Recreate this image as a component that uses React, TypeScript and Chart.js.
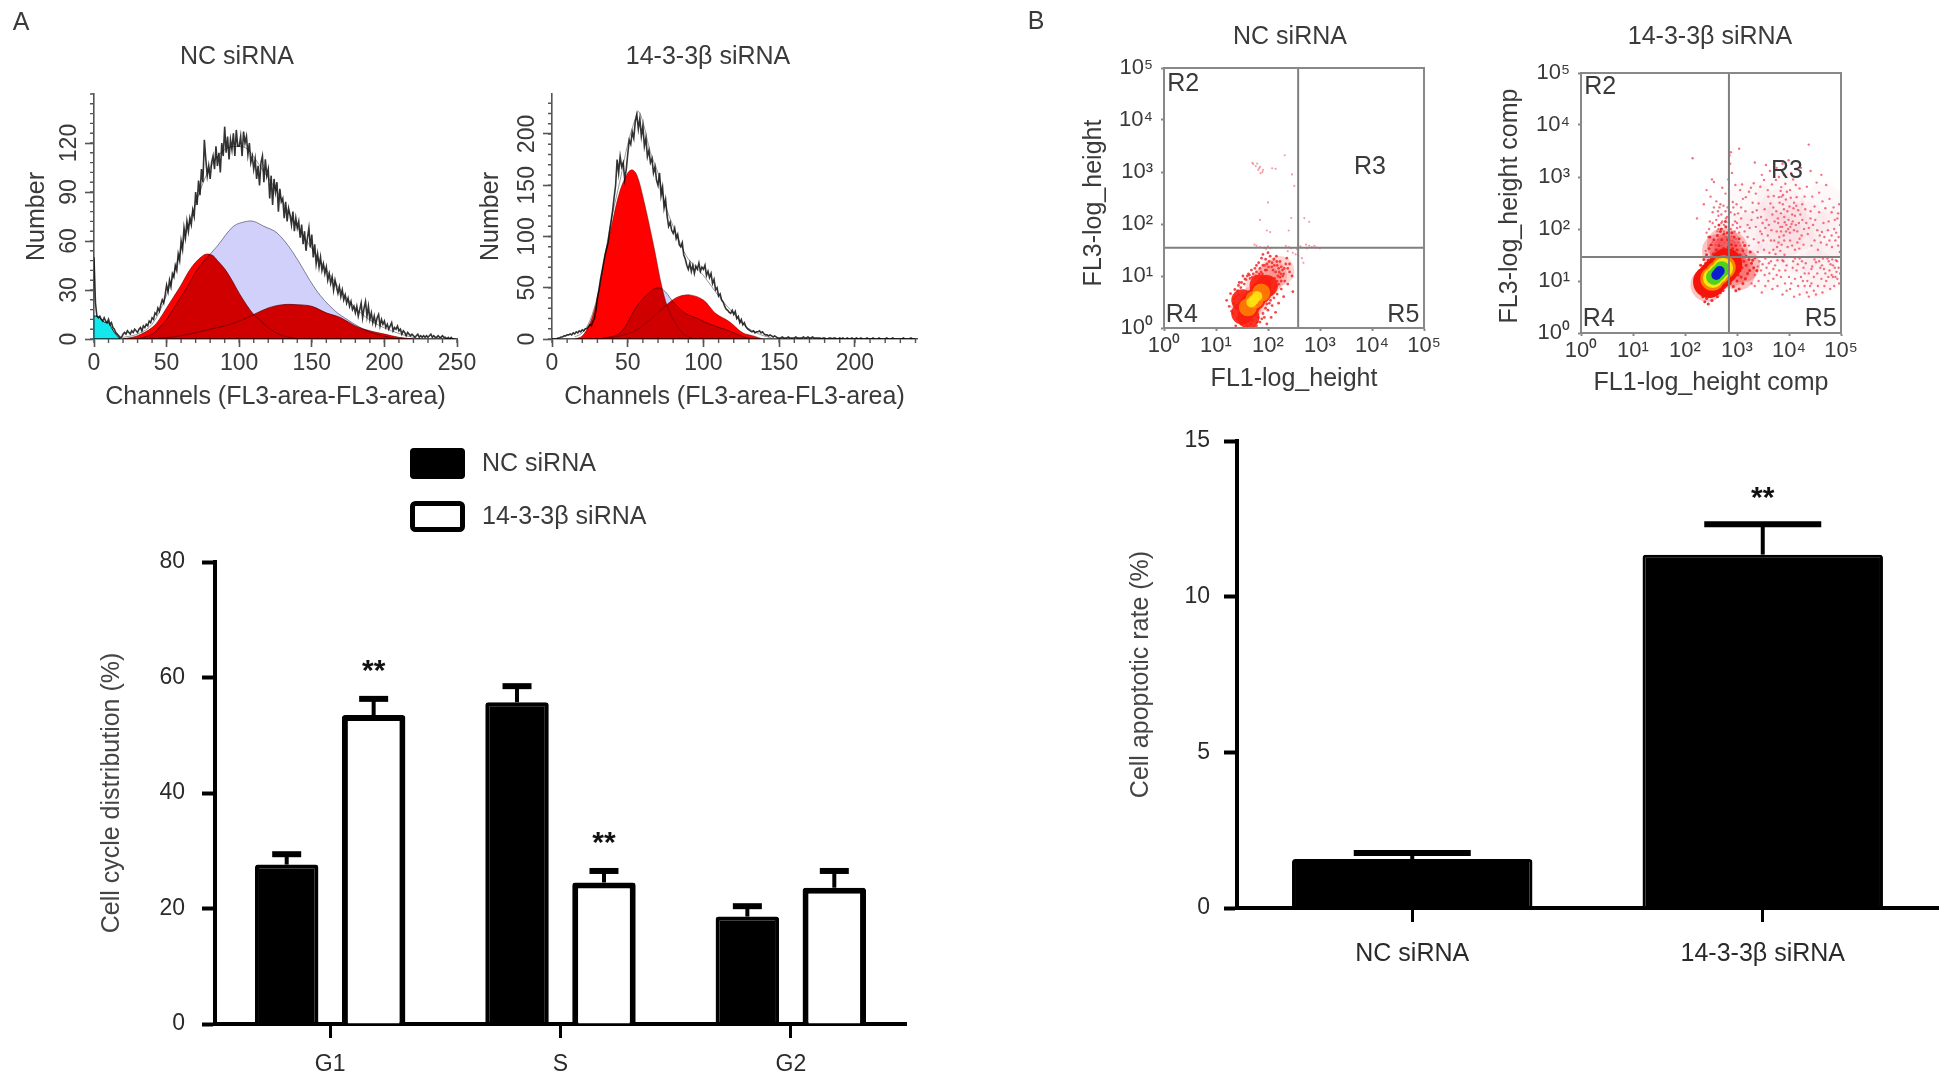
import React, { useEffect, useRef } from "react";
import { Chart, registerables } from "chart.js";

Chart.register(...registerables);
Chart.defaults.font.family = "'Liberation Sans', Arial, sans-serif";
Chart.defaults.color = "#3a3a3a";

// ---------- Panel A, cell-cycle histograms ----------
// counts per channel (index = channel number)
const hist1Counts = [
  50,22,14,13,14,12,11,13,11,10, 12,9,10,7,6,4,3,2,1,1, 3,4,3,5,4,3,5,4,6,5, 4,6,7,5,8,7,9,8,11,10,
  13,12,16,15,19,17,21,24,22,27, 33,29,36,32,40,38,45,42,52,48, 60,55,68,62,72,66,74,70,79,75,
  90,82,97,88,104,96,122,110,100,106, 98,108,112,104,118,106,114,102,120,112, 130,114,124,110,122,116,126,112,128,118,
  118,124,112,127,120,124,113,120,108,112, 104,110,98,106,94,108,112,96,110,100, 104,86,100,82,98,90,96,78,92,84,
  86,74,84,72,80,76,70,78,66,74, 68,72,62,70,58,66,54,62,68,56, 64,50,58,46,52,44,50,42,46,40,
  44,36,40,34,38,30,36,32,28,32, 26,30,24,27,22,25,20,23,18,20, 16,20,14,18,22,13,19,23,14,20,
  12,16,10,14,9,13,15,8,12,9, 11,7,9,6,8,10,5,7,6,8, 5,6,3,5,4,2,4,3,2,3,
  2,1,2,3,1,2,1,2,1,2, 1,2,3,1,2,1,1,2,1,1, 2,1,1,0,1,0,1,0,0,0,
];
const hist2Counts = [
  0,0,0,0,1,1,2,2,3,3, 4,4,5,4,6,5,7,6,8,7, 9,8,10,10,12,14,13,17,20,28, 40,48,58,66,74,82,88,94,105,115,
  125,138,150,175,162,178,168,172,156,165, 180,194,190,202,196,212,219,205,215,198, 208,188,196,178,184,172,176,162,168,155,
  150,162,140,148,128,136,120,110,114,106, 103,108,98,102,92,90,94,82,78,72, 68,74,66,72,64,71,68,74,66,70,
  68,72,62,66,60,64,54,58,48,50, 42,44,38,36,32,29,28,26,25,28, 24,27,20,22,16,19,14,16,12,10,
  9,8,7,8,6,7,7,8,6,7, 5,4,4,3,4,3,2,3,2,1, 1,1,2,1,1,1,2,1,1,1, 1,2,1,1,1,1,2,1,1,2,
  1,1,2,1,1,1,1,1,0,1, 1,0,0,1,1,0,1,1,0,0, 1,0,1,0,0,1,0,0,1,0, 0,1,0,0,1,0,0,0,1,0,
  0,0,1,0,0,0,1,0,0,0, 0,1,0,0,0,1,0,0,0,0, 0,0,1,0,0,0,0,1,0,0,0,
];
const hist1DebrisX = [0, 2, 4, 6, 8, 10, 12, 14, 16, 18];
const hist1DebrisY = [14, 14, 13, 11, 10, 10, 7, 4, 2, 0];
const hist1G1X = [20,30,40,45,50,55,60,65,70,75,78,82,85,90,95,100,105,110,115,120,125,130,135,140];
const hist1G1Y = [0,2,7,12,19,26,33,41,47,51,52,51,48,43,36,28,21,15,11,7,4,2,1,0];
const hist1SX = [30,40,45,50,55,60,65,70,75,80,85,96,105,110,117,126,137,153,165,176,188,199,210];
const hist1SY = [0,3,7,12,19,26,33,41,47,52,57,69,72,72,69,65,53,30,18,11,5,2,0];
const hist1G2X = [40,60,80,90,100,110,120,130,140,150,160,170,180,190,200,210,220];
const hist1G2Y = [0,2,6,8,11,15,19,21,21,20,16,13,8,5,3,1,0];
const hist1FitX = [20,30,40,50,60,70,80,90,100,106,115,125,135,145,155,165,175,185,195,205,215,225];
const hist1FitY = [1,3,9,27,55,83,105,116,118,116,105,92,76,62,49,36,24,15,9,5,2,0];

const hist2G1X = [15,20,25,30,35,40,45,50,53,56,60,67,73,78,86,92,96];
const hist2G1Y = [0,3,15,40,80,115,145,162,165,160,139,92,48,25,6,1,0];
const hist2SX = [32,45,56,64,70,75,78,82,88,96,105,115,125,131];
const hist2SY = [0,6,32,45,50,46,40,33,25,20,14,9,3,0];
const hist2G2X = [30,45,56,67,77,83,91,100,108,117,126,133,139];
const hist2G2Y = [0,3,9,22,35,41,43,38,25,17,6,3,0];
const hist2FitX = [15,20,25,30,35,40,45,50,55,57,60,65,70,75,80,85,90,95,100,105,110,115,120,125,130,135,140,145];
const hist2FitY = [2,6,18,42,82,122,155,190,215,222,212,182,162,130,110,92,78,70,62,52,42,33,25,16,10,6,3,1];

// ---------- Panel A, bars ----------
const phaseCategories = ["G1", "S", "G2"];
const ncPhase = [27.6, 55.7, 18.6];
const ncPhaseErr = [1.8, 2.8, 1.8];
const kdPhase = [53.5, 24.5, 23.6];
const kdPhaseErr = [2.8, 2, 2.9];
const phaseStarIndex = [0, 1];
const phaseStarValue = [61.8, 32];

// ---------- Panel B, bars ----------
const apoCategories = ["NC siRNA", "14-3-3β siRNA"];
const apoValues = [1.57, 11.35];
const apoErr = [0.2, 0.98];
const apoStarValue = 13.3;

// ---------- Panel B, flow-cytometry dots ----------
const decades = [1, 10, 100, 1000, 10000, 100000];
const superDigits = ["⁰", "¹", "²", "³", "⁴", "⁵"];
const regionNames = ["R2", "R3", "R4", "R5"];
const ncGateX = 380;
const ncGateY = 35;
const ncRegionX = [2.35, 9100, 2.2, 40000];
const ncRegionY = [49000, 1235, 1.75, 1.75];
const kdGateX = 700;
const kdGateY = 29;
const kdRegionX = [2.35, 9100, 2.2, 40700];
const kdRegionY = [53700, 1325, 1.88, 1.88];

const ncSparse = [[50,1500],[58,1300],[65,1100],[72,950],[80,1100],[62,1450],[70,1250],[120,1180],[140,1150],[210,2100],[290,900],[320,540],[100,260],[280,130],[70,120],[95,75],[110,70],[250,75],[500,130],[620,110],[540,40],[620,38],[700,36],[850,35],[1000,34],[60,38],[70,36],[85,35],[100,37],[110,34],[220,38],[250,36],[300,28],[340,26],[360,33],[420,37],[450,22],[480,18],[380,25],[52,1420],[68,1180],[78,1010],[55,40],[92,33],[240,30],[280,34],[560,34],[780,38]];
const ncEdge = [[20,2.1],[22,3],[18,2.6],[24,4],[26,5.2],[30,6],[35,7],[38,8.5],[45,9],[52,11],[60,12],[70,14],[80,16],[95,17],[120,18],[150,16],[180,15],[220,17],[240,14],[260,12],[200,11],[170,9.5],[210,8],[160,7],[180,5.6],[150,4.5],[130,3.8],[120,2.7],[100,2.2],[85,1.6],[70,1.3],[60,1.1],[55,1.05],[30,1.2],[25,1.5],[24,1.1],[40,1.05],[16,3.4],[19,4.6],[28,7.5],[33,10],[48,13],[66,18],[90,21],[130,21],[110,24],[75,22],[60,16],[260,17],[230,22],[290,10],[240,7],[300,5],[200,4],[160,3],[140,2],[115,1.6],[95,1.2],[42,11],[56,14],[74,12],[88,13],[102,15],[125,13],[140,12],[165,12],[190,13],[205,14],[155,10],[135,9],[145,6.5],[125,5],[112,3.4],[95,2.9],[80,1.9],[65,1.6],[50,1.4],[36,1.3],[28,1.7],[21,1.9],[23,5.5],[27,6.6],[40,10],[115,9],[180,8],[170,19],[145,24],[100,28],[80,26],[105,19],[118,15],[132,16],[148,19],[160,14],[176,11],[192,10],[150,8],[134,6],[118,4.5],[106,3],[90,2.4],[76,1.5],[62,1.3],[47,1.2],[34,1.5],[26,2.4],[22,3.6],[27,4.4],[31,7.5],[36,8.8],[44,10.4],[50,9.5],[58,10],[68,11],[78,11],[86,16],[94,13]];
const ncCoreRedX = [32,43,55,72,95,42,72,32];
const ncCoreRedY = [1.9,2.6,3.5,4.8,6.4,1.6,6.6,3.4];
const ncCoreOrangeX = [41,55,74];
const ncCoreOrangeY = [2.5,3.5,4.8];
const ncCoreYellowX = [48,54,62];
const ncCoreYellowY = [3.1,3.5,4.1];
const ncHaloX = [38,50,72,95,120,165];
const ncHaloY = [2.4,3.2,5.8,8,10.5,12.5];

const kdSparse = [[140,2300],[170,160],[280,70],[330,900],[360,800],[260,560],[310,420],[230,300],[400,340],[460,260],[520,620],[600,480],[680,900],[740,1800],[720,2600],[760,3000],[1100,3500],[2200,1900],[800,1200],[930,700],[1150,560],[1300,380],[980,300],[1450,220],[1700,520],[2100,760],[2600,310],[3000,1100],[3600,1700],[4300,1300],[1900,150],[2300,110],[2800,90],[1600,70],[1300,55],[3200,60],[3900,75],[4600,95],[5200,60],[5900,45],[6800,38],[8200,32],[4200,35],[3300,40],[2500,36],[24000,4200],[26000,1300],[12000,900],[17000,1500],[9800,2100],[7500,1800],[6400,1000],[8500,740],[10500,560],[14000,410],[18000,300],[22000,650],[28000,420],[34000,780],[42000,1100],[52000,700],[60000,380],[72000,260],[85000,160],[92000,300],[38000,210],[46000,130],[56000,95],[66000,75],[78000,60],[88000,48],[95000,36],[80000,25],[70000,20],[60000,16],[50000,14],[42000,11],[36000,8],[30000,6.5],[24000,5],[20000,8],[17000,12],[14000,16],[11000,9],[9000,6.5],[7500,5.5],[6000,8],[5000,11],[4200,14],[3500,8],[3000,6],[2600,10],[2200,13],[1900,9],[9000,20],[12000,24],[16000,27],[21000,22],[27000,17],[33000,23],[45000,27],[58000,24],[70000,12],[82000,15],[92000,9],[74000,8],[62000,7],[52000,10],[40000,18],[30000,12],[24000,14],[19000,18],[15000,8],[12500,5],[6500,16],[7800,24],[5400,20],[4500,24],[3700,18],[3100,21],[2700,24],[6200,130],[7000,200],[7600,300],[7200,420],[6900,540],[8100,170],[8900,120],[9800,150],[10600,110],[11800,140],[12500,95],[13500,120],[14500,90],[15500,130],[7000,90],[7900,75],[8800,90],[5800,90],[6500,70],[6100,160],[5300,140],[4800,190],[9300,220],[10200,270],[11500,190],[13000,180],[15000,230],[12500,320],[7400,110],[8300,135],[9600,100],[10400,85],[11200,125],[6800,110],[8000,240],[8700,370],[7100,640],[4000,420],[3400,240],[2900,170],[2400,230],[2000,320],[1600,120],[1200,160],[1000,130],[850,260],[640,170],[520,140],[440,180],[380,110],[300,140],[420,90],[560,90],[700,110],[900,90],[1100,85],[600,220],[340,210],[480,300],[16000,65],[19000,50],[23000,80],[27000,48],[31000,60],[36000,40],[41000,55],
  [1250,720],[1480,410],[1850,620],[2300,480],[2800,650],[3300,880],[3900,560],[4700,720],[5600,880],[5100,430],[4400,310],[3700,150],[3100,130],[2500,165],[2000,210],[1750,105],[1400,90],[1150,110],[1700,48],[2100,64],[2600,55],[3000,80],[3500,105],[4100,120],[4500,60],[5000,40],[5500,33],[6300,55],[7200,50],[8100,60],[9400,45],[10500,60],[11500,48],[13000,40],[14500,55],[15800,42],[17500,75],[19500,100],[21500,130],[24000,105],[26000,160],[29000,120],[32000,150],[35000,95],[39000,75],[43000,88],[48000,70],[53000,50],[60000,60],[67000,45],[74000,100],[81000,85],[90000,70],[96000,120],[88000,200],[76000,150],[66000,210],[58000,140],[50000,250],[44000,340],[38000,500],[31000,270],[26000,220],[20000,420],[16000,600],[13500,700],[11000,1200],[8000,1100],[5800,1500],[6600,320],[7700,450],[9100,520],[10800,400],[12200,250],[13800,280],[16500,190],[18000,150],[20500,240],[5000,260],[5700,220],[6400,410],
  [7500,25],[8500,16],[10000,12],[11800,18],[13000,27],[14800,21],[17800,24],[20000,14],[22500,10],[25500,8],[28000,19],[31000,26],[35000,14],[38000,24],[43000,20],[47000,17],[55000,27],[63000,21],[68000,26],[76000,18],[84000,24],[90000,18],[96000,14],[85000,11],[78000,12],[66000,13],[57000,12],[48000,8],[44000,6],[33000,5.5],[27000,9],[22000,6],[18500,10],[16000,5.5],[13000,11],[10500,7],[8400,9],[7000,12],[5800,13],[4800,7],[4000,10],[3400,13],[2900,16],[2500,19],[2200,8],[5000,17],[6000,25],[4100,22],[3500,27],
  [250,38],[300,48],[340,56],[380,50],[430,62],[470,55],[520,48],[570,55],[620,70],[670,52],[720,60],[780,72],[830,60],[900,55],[960,65],[1050,55],[1150,48],[1250,42],[1400,33],[440,100],[500,130],[560,120],[610,160],[690,135],[760,100],[830,120],[920,140],[1000,105],[400,150],[340,130],[290,100],[260,85],[360,260],[430,220],[500,190],[550,280],[660,260],[750,210],[830,330],[900,190],[1050,200],[1200,260]];
const kdEdge = [[200,6],[220,5],[240,4],[280,3.6],[330,4.2],[420,5],[480,6],[560,8],[640,10],[260,4.6],[180,7.5],[170,9.5],[165,12],[190,16],[200,20],[230,26],[260,32],[290,42],[320,50],[360,62],[300,70],[420,75],[480,90],[510,62],[560,80],[610,110],[660,62],[780,50],[880,70],[950,48],[1000,40],[1150,32],[1300,38],[1500,30],[1700,26],[1900,22],[2100,18],[1600,14],[1300,9],[1100,7],[950,6.5],[850,7.8],[740,9],[1500,20],[1250,18],[1100,25],[1350,24],[1200,12],[1000,10],[1450,11],[1750,16],[2000,25],[400,40],[450,48],[550,42],[680,45],[740,38],[820,42],[900,33],[350,33],[280,25],[250,22],[210,14],[230,8.5],[300,5.2],[380,6.5],[540,6.6],[600,9],[700,12],[1050,13],[1150,16],[2400,16],[2200,28],[1800,36],[1400,48],[1100,65],[800,85],[600,140],[450,120],[500,100],[650,85]];
const kdCoreRedX = [290,360,431,520,620];
const kdCoreRedY = [9.6,12,14.2,17,21];
const kdCoreOrangeX = [335,431,555];
const kdCoreOrangeY = [11,14.2,18.3];
const kdCoreYellowX = [345,431,539];
const kdCoreYellowY = [11.4,14.2,17.7];
const kdCoreGreenX = [362,431,513];
const kdCoreGreenY = [12,14.2,16.9];
const kdCoreBlueX = [400,431,465];
const kdCoreBlueY = [13,14.2,15.6];
const kdHaloX = [270,400,570,830,1050,1300,450,560,640,760];
const kdHaloY = [8.5,13,21,17,14,20,38,50,34,42];
const kdCloudX = [9000,7500,7000,10500,6500,3000,1800,1200,15000,30000,55000,20000,45000,70000,3500];
const kdCloudY = [130,210,420,90,70,100,300,70,40,14,20,120,250,80,18];

type Box = { x: number; y: number; w: number; h: number };
type Plot = { l: number; t: number; r: number; b: number };
const FS = 25;
const LH = FS * 1.2;
const font = (size: number, weight: any = "normal") => ({ size, weight, lineHeight: 1.2 });

function frame(box: Box, plot: Plot) {
  return {
    layout: {
      autoPadding: false,
      padding: { top: plot.t - box.y, right: box.x + box.w - plot.r, left: 0, bottom: 0 },
    },
    yFit: (s: any) => { s.width = plot.l - box.x; },
    xFit: (s: any) => { s.height = box.y + box.h - plot.b; },
  };
}
const yTitle = (text: string, box: Box, cx: number, color = "#3a3a3a") => ({
  display: true, text, color, font: font(FS),
  padding: { top: cx - box.x - LH / 2, bottom: 0 },
});
const xTitle = (text: string, box: Box, cy: number, color = "#3a3a3a") => ({
  display: true, text, color, font: font(FS),
  padding: { top: 0, bottom: box.y + box.h - cy - LH / 2 },
});

function textPlugin(box: Box, items: { t: string; x: number; y: number; size?: number; color?: string; rot?: boolean }[]) {
  return {
    id: "pageText",
    afterDraw(chart: any) {
      const c = chart.ctx;
      c.save();
      c.textAlign = "center";
      c.textBaseline = "middle";
      for (const it of items) {
        c.save();
        c.font = `${it.size || FS}px 'Liberation Sans', Arial, sans-serif`;
        c.fillStyle = it.color || "#3a3a3a";
        c.translate(it.x - box.x, it.y - box.y);
        if (it.rot) c.rotate(-Math.PI / 2);
        c.fillText(it.t, 0, 0);
        c.restore();
      }
      c.restore();
    },
  };
}

// histogram extras: multiply blending of the fills, minor ticks, rotated y labels
function histPlugin(minorX: number, minorY: number, labelX: number, box: Box) {
  return {
    id: "histExtras",
    beforeDatasetsDraw(chart: any) { chart.ctx.globalCompositeOperation = "multiply"; },
    afterDatasetsDraw(chart: any) { chart.ctx.globalCompositeOperation = "source-over"; },
    afterDraw(chart: any) {
      const c = chart.ctx, { x, y } = chart.scales;
      c.save();
      c.strokeStyle = "#555";
      c.lineWidth = 1.4;
      c.beginPath();
      for (let v = 0; v <= x.max; v += minorX) {
        const p = x.getPixelForValue(v);
        c.moveTo(p, y.bottom); c.lineTo(p, y.bottom + 4);
      }
      for (let v = 0; v <= y.max; v += minorY) {
        const p = y.getPixelForValue(v);
        c.moveTo(x.left, p); c.lineTo(x.left - 4, p);
      }
      c.stroke();
      c.fillStyle = "#3a3a3a";
      c.font = "23px 'Liberation Sans', Arial, sans-serif";
      c.textAlign = "center";
      c.textBaseline = "middle";
      for (const t of y.ticks) {
        c.save();
        c.translate(labelX - box.x, y.getPixelForValue(t.value));
        c.rotate(-Math.PI / 2);
        c.fillText(String(t.value), 0, 0);
        c.restore();
      }
      c.restore();
    },
  };
}

const xy = (xs: number[], ys: number[]) => xs.map((x, i) => ({ x, y: ys[i] }));
const channels = (ys: number[]) => ys.map((y, x) => ({ x, y }));
const area = (data: any[], fill: string, edge: string) => ({
  data, showLine: true, pointRadius: 0, fill: "origin", backgroundColor: fill, borderColor: edge, borderWidth: 1, tension: 0.35,
});

function histConfig(box: Box, plot: Plot, cfg: any) {
  const f = frame(box, plot);
  const line = { color: "#555", width: 1.6 };
  return {
    type: "scatter",
    data: { datasets: cfg.datasets },
    options: {
      responsive: false, animation: false, layout: f.layout,
      plugins: { legend: { display: false }, tooltip: { enabled: false } },
      scales: {
        x: {
          type: "linear", min: 0, max: cfg.xMax, afterFit: f.xFit,
          border: line, grid: { drawOnChartArea: false, tickLength: 8, tickColor: "#555", tickWidth: 1.6 },
          ticks: { stepSize: 50, padding: 3, color: "#3a3a3a", font: font(23), maxRotation: 0 },
          afterBuildTicks: (s: any) => { s.ticks = cfg.xTicks.map((value: number) => ({ value })); },
          title: xTitle("Channels (FL3-area-FL3-area)", box, 397),
        },
        y: {
          type: "linear", min: 0, max: cfg.yMax, afterFit: f.yFit,
          border: line, grid: { drawOnChartArea: false, tickLength: 9, tickColor: "#555", tickWidth: 1.6 },
          ticks: { stepSize: cfg.yStep, display: false },
          afterBuildTicks: (s: any) => { s.ticks = cfg.yTicks.map((value: number) => ({ value })); },
          title: yTitle("Number", box, cfg.titleX),
        },
      },
    },
    plugins: [histPlugin(10, cfg.minorY, cfg.labelX, box), textPlugin(box, cfg.texts)],
  };
}

function dotConfig(box: Box, plot: Plot, cfg: any) {
  const f = frame(box, plot);
  const logAxis = (fit: any, title: any, padding: number) => ({
    type: "logarithmic", min: 1, max: 100000, afterFit: fit,
    border: { color: "#888", width: 2 },
    grid: { drawOnChartArea: false, tickLength: 3, tickColor: "#888", tickWidth: 2 },
    afterBuildTicks: (s: any) => { s.ticks = decades.map((value) => ({ value })); },
    ticks: {
      padding, autoSkip: false, maxRotation: 0, color: "#3a3a3a", font: font(22),
      callback: (v: any) => "10" + superDigits[Math.round(Math.log10(v))],
    },
    title,
  });
  const gateLine = (data: any[]) => ({ data, showLine: true, pointRadius: 0, borderColor: "#7f7f7f", borderWidth: 2, clip: false });
  const dots = (data: any[], color: string, r: number) => ({ data, pointRadius: r, pointBorderWidth: 0, backgroundColor: color, pointBackgroundColor: color });
  return {
    type: "scatter",
    data: {
      datasets: [
        gateLine([{ x: cfg.gateX, y: 1 }, { x: cfg.gateX, y: 100000 }]),
        gateLine([{ x: 1, y: cfg.gateY }, { x: 100000, y: cfg.gateY }]),
        ...cfg.layers.map((l: any) => dots(l.data, l.color, l.r)),
      ],
    },
    options: {
      responsive: false, animation: false, layout: f.layout,
      plugins: { legend: { display: false }, tooltip: { enabled: false } },
      scales: {
        x: logAxis(f.xFit, xTitle(cfg.xLabel, box, cfg.xTitleY), 2),
        y: logAxis(f.yFit, { display: false }, 8),
      },
    },
    plugins: [
      {
        id: "dotFrame",
        afterDraw(chart: any) {
          const c = chart.ctx, a = chart.chartArea, { x, y } = chart.scales;
          c.save();
          c.strokeStyle = "#888"; c.lineWidth = 2;
          c.strokeRect(a.left, a.top, a.right - a.left, a.bottom - a.top);
          c.fillStyle = "#3a3a3a";
          c.font = "25px 'Liberation Sans', Arial, sans-serif";
          c.textAlign = "center"; c.textBaseline = "middle";
          regionNames.forEach((n, i) => c.fillText(n, x.getPixelForValue(cfg.regionX[i]), y.getPixelForValue(cfg.regionY[i])));
          c.restore();
        },
      },
      textPlugin(box, cfg.texts),
    ],
  };
}

function errorPlugin(errs: number[][], capW: number, capT: number, stemT: number, stars: { ds: number; i: number; v: number }[]) {
  return {
    id: "errors",
    afterDatasetsDraw(chart: any) {
      const c = chart.ctx, y = chart.scales.y;
      c.save();
      c.strokeStyle = "#000";
      errs.forEach((arr, d) => {
        const meta = chart.getDatasetMeta(d), vals = chart.data.datasets[d].data;
        arr.forEach((e, i) => {
          const px = meta.data[i].x, top = y.getPixelForValue(vals[i] + e), base = y.getPixelForValue(vals[i]);
          c.lineWidth = stemT;
          c.beginPath(); c.moveTo(px, base); c.lineTo(px, top); c.stroke();
          c.lineWidth = capT;
          c.beginPath(); c.moveTo(px - capW / 2, top); c.lineTo(px + capW / 2, top); c.stroke();
        });
      });
      c.fillStyle = "#111";
      c.font = "bold 30px 'Liberation Sans', Arial, sans-serif";
      c.textAlign = "center"; c.textBaseline = "middle";
      for (const s of stars) c.fillText("**", chart.getDatasetMeta(s.ds).data[s.i].x, y.getPixelForValue(s.v) + 5);
      c.restore();
    },
  };
}

function legendPlugin(box: Box, rows: { x: number; y: number; w: number; h: number; tx: number; ty: number }[]) {
  return {
    id: "boxLegend",
    afterDraw(chart: any) {
      const c = chart.ctx;
      c.save();
      chart.data.datasets.forEach((d: any, i: number) => {
        const r = rows[i];
        c.beginPath();
        c.roundRect(r.x - box.x, r.y - box.y, r.w, r.h, 4);
        c.fillStyle = d.backgroundColor;
        c.fill();
        c.lineWidth = 5; c.strokeStyle = "#000";
        c.beginPath();
        c.roundRect(r.x - box.x + 2.5, r.y - box.y + 2.5, r.w - 5, r.h - 5, 3);
        c.stroke();
        c.fillStyle = "#3a3a3a";
        c.font = `${FS}px 'Liberation Sans', Arial, sans-serif`;
        c.textAlign = "left"; c.textBaseline = "middle";
        c.fillText(d.label, r.tx - box.x, r.ty - box.y);
      });
      c.restore();
    },
  };
}

function barScales(f: any, box: Box, cfg: any) {
  return {
    x: {
      afterFit: f.xFit,
      border: { color: "#000", width: 4 },
      grid: { drawOnChartArea: false, tickLength: 14, tickColor: "#000", tickWidth: 3, offset: false },
      ticks: { padding: cfg.xPad, color: "#2a2a2a", font: font(cfg.xFont), maxRotation: 0 },
    },
    y: {
      min: 0, max: cfg.yMax, afterFit: f.yFit,
      border: { color: "#000", width: 4 },
      grid: { drawOnChartArea: false, tickLength: 13, tickColor: "#000", tickWidth: 4 },
      ticks: { stepSize: cfg.yStep, padding: cfg.yPad, color: "#2a2a2a", font: font(23) },
      title: yTitle(cfg.yLabel, box, cfg.titleX, "#444"),
    },
  };
}

function Panel({ box, make }: { box: Box; make: () => any }) {
  const ref = useRef<HTMLCanvasElement | null>(null);
  useEffect(() => {
    const chart = new Chart(ref.current as any, make());
    return () => chart.destroy();
  }, []);
  return (
    <canvas
      ref={ref}
      width={box.w}
      height={box.h}
      style={{ position: "absolute", left: box.x, top: box.y, width: box.w, height: box.h, filter: "blur(0.6px)" }}
    />
  );
}

const h1Box = { x: 0, y: 0, w: 480, h: 411 };
const h1Plot = { l: 94, t: 94, r: 457, b: 339 };
const h2Box = { x: 476, y: 0, w: 470, h: 411 };
const h2Plot = { l: 552, t: 94, r: 917, b: 339 };
const d1Box = { x: 1020, y: 0, w: 440, h: 392 };
const d1Plot = { l: 1164, t: 68, r: 1424, b: 328 };
const d2Box = { x: 1470, y: 0, w: 410, h: 396 };
const d2Plot = { l: 1581, t: 73, r: 1841, b: 333 };
const aBox = { x: 80, y: 430, w: 850, h: 653 };
const aPlot = { l: 215, t: 562, r: 906, b: 1024 };
const bBox = { x: 1120, y: 400, w: 830, h: 580 };
const bPlot = { l: 1237, t: 441, r: 1938, b: 908 };

const makeH1 = () => histConfig(h1Box, h1Plot, {
  xMax: 250, yMax: 150, yStep: 30, minorY: 6, labelX: 70, titleX: 37,
  xTicks: [0, 50, 100, 150, 200, 250], yTicks: [0, 30, 60, 90, 120],
  texts: [{ t: "A", x: 21, y: 23 }, { t: "NC siRNA", x: 237, y: 57 }],
  datasets: [
    { data: channels(hist1Counts), showLine: true, pointRadius: 0, borderColor: "#333", borderWidth: 1.6, tension: 0 },
    { data: xy(hist1FitX, hist1FitY), showLine: true, pointRadius: 0, borderColor: "#999", borderWidth: 1, tension: 0.35 },
    area(xy(hist1G1X, hist1G1Y), "rgb(255,0,0)", "rgba(120,0,0,0.7)"),
    area(xy(hist1G2X, hist1G2Y), "rgb(255,0,0)", "rgba(120,0,0,0.7)"),
    area(xy(hist1SX, hist1SY), "rgb(208,208,250)", "#8a8a9a"),
    area(xy(hist1DebrisX, hist1DebrisY), "rgb(20,232,236)", "#222"),
  ],
});
const makeH2 = () => histConfig(h2Box, h2Plot, {
  xMax: 241, yMax: 239, yStep: 50, minorY: 10, labelX: 528, titleX: 491,
  xTicks: [0, 50, 100, 150, 200], yTicks: [0, 50, 100, 150, 200],
  texts: [{ t: "14-3-3β siRNA", x: 708, y: 57 }],
  datasets: [
    { data: channels(hist2Counts), showLine: true, pointRadius: 0, borderColor: "#333", borderWidth: 1.6, tension: 0 },
    { data: xy(hist2FitX, hist2FitY), showLine: true, pointRadius: 0, borderColor: "#999", borderWidth: 1, tension: 0.35 },
    area(xy(hist2G1X, hist2G1Y), "rgb(255,0,0)", "rgba(120,0,0,0.5)"),
    area(xy(hist2G2X, hist2G2Y), "rgb(255,0,0)", "rgba(120,0,0,0.5)"),
    area(xy(hist2SX, hist2SY), "rgb(208,208,250)", "#8a8a9a"),
  ],
});
const toPts = (a: number[][]) => a.map(([x, y]) => ({ x, y }));
const makeD1 = () => dotConfig(d1Box, d1Plot, {
  gateX: ncGateX, gateY: ncGateY, regionX: ncRegionX, regionY: ncRegionY,
  xLabel: "FL1-log_height", xTitleY: 379,
  texts: [
    { t: "B", x: 1036, y: 22 }, { t: "NC siRNA", x: 1290, y: 37 },
    { t: "FL3-log_height", x: 1094, y: 203, rot: true },
  ],
  layers: [
    { data: xy(ncCoreYellowX, ncCoreYellowY), color: "rgba(255,225,20,0.9)", r: 5 },
    { data: xy(ncCoreOrangeX, ncCoreOrangeY), color: "rgba(255,140,0,0.8)", r: 9 },
    { data: xy(ncCoreRedX, ncCoreRedY), color: "rgba(250,30,15,0.9)", r: 11 },
    { data: toPts(ncEdge), color: "rgba(245,40,40,0.85)", r: 1.4 },
    { data: xy(ncHaloX, ncHaloY), color: "rgba(250,60,50,0.22)", r: 15 },
    { data: toPts(ncSparse), color: "rgba(245,130,145,0.8)", r: 1.1 },
  ],
});
const makeD2 = () => dotConfig(d2Box, d2Plot, {
  gateX: kdGateX, gateY: kdGateY, regionX: kdRegionX, regionY: kdRegionY,
  xLabel: "FL1-log_height comp", xTitleY: 383,
  texts: [
    { t: "14-3-3β siRNA", x: 1710, y: 37 },
    { t: "FL3-log_height comp", x: 1510, y: 206, rot: true },
  ],
  layers: [
    { data: xy(kdCoreBlueX, kdCoreBlueY), color: "#0a20d0", r: 5 },
    { data: xy(kdCoreGreenX, kdCoreGreenY), color: "#50d020", r: 8 },
    { data: xy(kdCoreYellowX, kdCoreYellowY), color: "#f4e810", r: 10 },
    { data: xy(kdCoreOrangeX, kdCoreOrangeY), color: "#ff8000", r: 12 },
    { data: xy(kdCoreRedX, kdCoreRedY), color: "#f5140c", r: 16 },
    { data: toPts(kdEdge), color: "rgba(240,30,30,0.9)", r: 1.5 },
    { data: toPts(kdSparse), color: "rgba(238,70,90,0.75)", r: 1.2 },
    { data: xy(kdHaloX, kdHaloY), color: "rgba(245,40,40,0.28)", r: 17 },
    { data: xy(kdCloudX, kdCloudY), color: "rgba(245,110,130,0.05)", r: 24 },
  ],
});
const makeA = () => {
  const f = frame(aBox, aPlot);
  const bar = { borderColor: "#000", borderRadius: 3, categoryPercentage: 0.755, barPercentage: 0.73 };
  return {
    type: "bar",
    data: {
      labels: phaseCategories,
      datasets: [
        { label: "NC siRNA", data: ncPhase, backgroundColor: "#000", borderWidth: 4, ...bar },
        { label: "14-3-3β siRNA", data: kdPhase, backgroundColor: "#fff", borderWidth: 6, ...bar },
      ],
    },
    options: {
      responsive: false, animation: false, layout: f.layout,
      plugins: { legend: { display: false }, tooltip: { enabled: false } },
      scales: barScales(f, aBox, { yMax: 80, yStep: 20, xPad: 13, yPad: 17, xFont: 23, yLabel: "Cell cycle distribution (%)", titleX: 112 }),
    },
    plugins: [
      errorPlugin([ncPhaseErr, kdPhaseErr], 29, 6, 4, phaseStarIndex.map((i, k) => ({ ds: 1, i, v: phaseStarValue[k] }))),
      legendPlugin(aBox, [
        { x: 410, y: 448, w: 55, h: 31, tx: 482, ty: 464 },
        { x: 410, y: 501, w: 55, h: 31, tx: 482, ty: 517 },
      ]),
    ],
  };
};
const makeB = () => {
  const f = frame(bBox, bPlot);
  return {
    type: "bar",
    data: {
      labels: apoCategories,
      datasets: [{ label: "Cell apoptotic rate", data: apoValues, backgroundColor: "#000", borderColor: "#000", borderWidth: 3, borderRadius: 3, categoryPercentage: 1, barPercentage: 0.686 }],
    },
    options: {
      responsive: false, animation: false, layout: f.layout,
      plugins: { legend: { display: false }, tooltip: { enabled: false } },
      scales: barScales(f, bBox, { yMax: 15, yStep: 5, xPad: 17, yPad: 14, xFont: FS, yLabel: "Cell apoptotic rate (%)", titleX: 1141 }),
    },
    plugins: [errorPlugin([apoErr], 117, 6, 4, [{ ds: 0, i: 1, v: apoStarValue }])],
  };
};

export default function App() {
  return (
    <div style={{ position: "absolute", left: 0, top: 0, width: 1950, height: 1083, background: "#fff", overflow: "hidden" }}>
      <Panel box={h1Box} make={makeH1} />
      <Panel box={h2Box} make={makeH2} />
      <Panel box={d1Box} make={makeD1} />
      <Panel box={d2Box} make={makeD2} />
      <Panel box={aBox} make={makeA} />
      <Panel box={bBox} make={makeB} />
    </div>
  );
}
